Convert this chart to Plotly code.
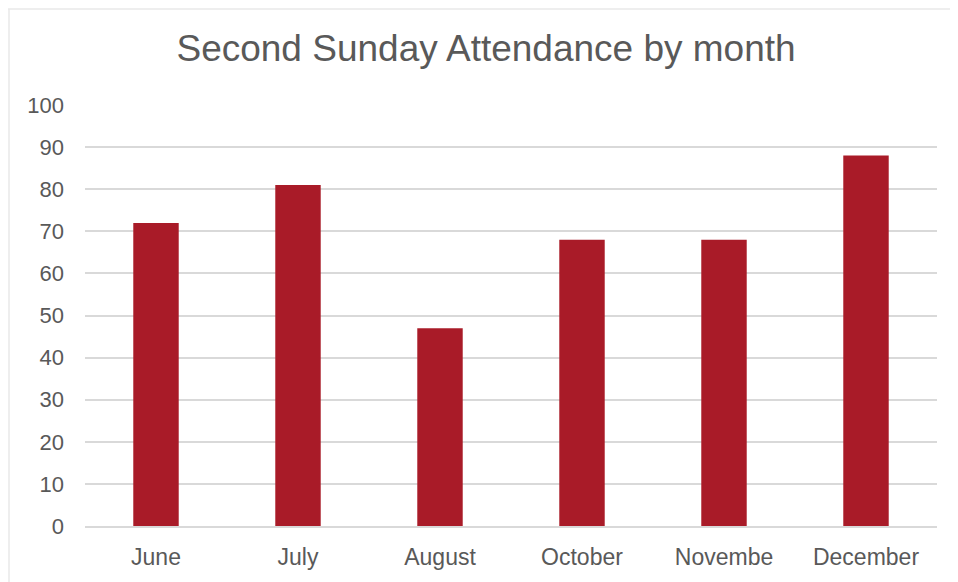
import plotly.graph_objects as go

months = ["June", "July", "August", "October", "Novembe", "December"]
attendance = [72, 81, 47, 68, 68, 88]
y_ticks = [0, 10, 20, 30, 40, 50, 60, 70, 80, 90, 100]

fig = go.Figure()
fig.add_trace(go.Bar(
    x=months, y=attendance,
    marker=dict(color="#A91B28", line=dict(width=0)),
    width=0.32,
))

W, H = 958, 582
fig.update_layout(
    width=W, height=H,
    margin=dict(l=77, r=29, t=97, b=64),
    paper_bgcolor="white", plot_bgcolor="white",
    font=dict(family="Liberation Sans, Arial, sans-serif", color="#595959", size=22),
    title=dict(text="Second Sunday Attendance by month", x=0.499, xanchor="center",
               y=1 - 40/H, yanchor="middle",
               font=dict(size=37, color="#595959")),
    showlegend=False,
)
fig.update_yaxes(range=[0, 100], tickvals=y_ticks, showgrid=True, gridcolor="#D9D9D9",
                 gridwidth=1.5, zeroline=False, showline=False, ticks="", ticklabelstandoff=20,
                 tickfont=dict(size=22))
fig.update_xaxes(showgrid=False, showline=True, linecolor="#D9D9D9", linewidth=1.5,
                 ticks="", ticklabelstandoff=10, tickfont=dict(size=23))
# faint frame along top and left edges
fig.add_shape(type="line", xref="paper", yref="paper",
              x0=(8-85)/852, x1=(958-85)/852, y0=1 + (105-9)/421, y1=1 + (105-9)/421,
              line=dict(color="#E8E8E8", width=1.5))
fig.add_shape(type="line", xref="paper", yref="paper",
              x0=(9-85)/852, x1=(9-85)/852, y0=1 + (105-9)/421, y1=-(590-526)/421,
              line=dict(color="#E8E8E8", width=1.5))

fig.write_html("out.html")
